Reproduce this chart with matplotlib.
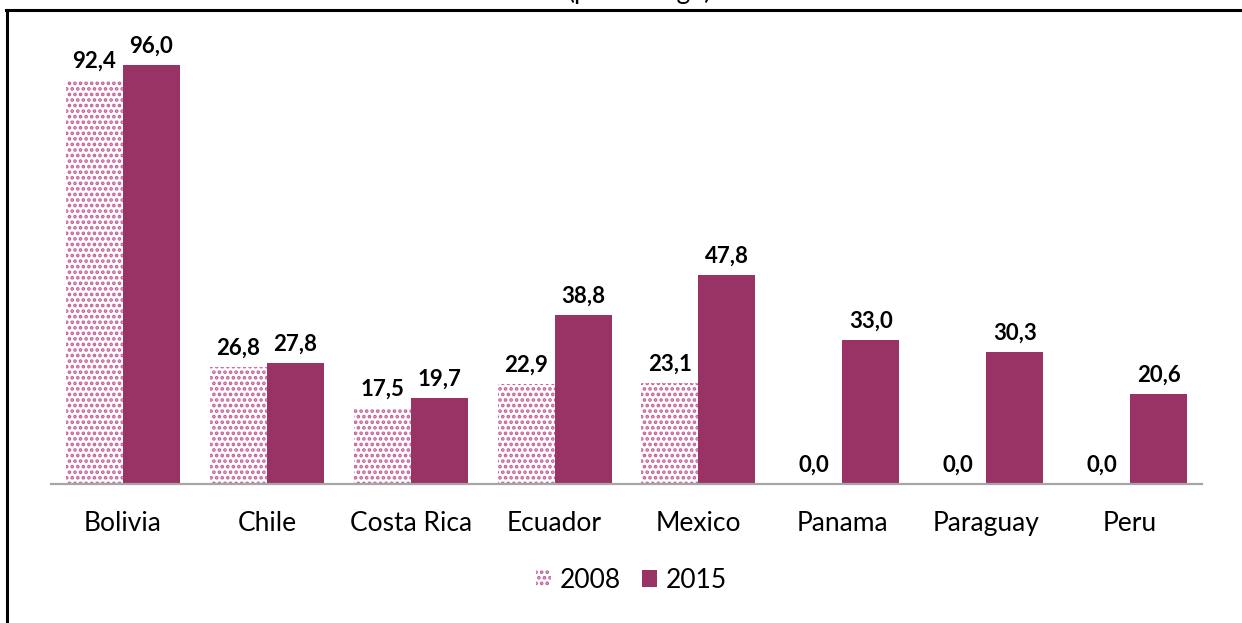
import matplotlib.pyplot as plt
import numpy as np
from matplotlib.lines import Line2D

countries = ["Bolivia", "Chile", "Costa Rica", "Ecuador", "Mexico", "Panama", "Paraguay", "Peru"]
v2008 = [92.4, 26.8, 17.5, 22.9, 23.1, 0.0, 0.0, 0.0]
v2015 = [96.0, 27.8, 19.7, 38.8, 47.8, 33.0, 30.3, 20.6]

plum = "#993366"
plt.rcParams['font.family'] = ['Lato', 'DejaVu Sans']
plt.rcParams['hatch.linewidth'] = 1.8
plt.rcParams['hatch.color'] = "#c4609a"

fig = plt.figure(figsize=(12.42, 6.23), dpi=100)
ax = fig.add_axes([0.0411, 0.2231, 0.9267, 0.7416])

x = np.arange(len(countries))
w = 0.396
ax.bar(x - w/2, v2008, w, color="white", edgecolor="#c4609a", linewidth=0, hatch="...", label="2008")
ax.bar(x + w/2, v2015, w, color=plum, label="2015")

def fmt(v):
    return f"{v:.1f}".replace(".", ",")

for xi, v in zip(x - w/2, v2008):
    ax.annotate(fmt(v), (xi, v), xytext=(0, 6), textcoords="offset points",
                ha="center", va="bottom", fontsize=16, fontweight="bold")
for xi, v in zip(x + w/2, v2015):
    ax.annotate(fmt(v), (xi, v), xytext=(0, 6), textcoords="offset points",
                ha="center", va="bottom", fontsize=16, fontweight="bold")

ax.set_xlim(-0.5, len(countries) - 0.5)
ax.set_ylim(0, 105.8)
ax.set_xticks(x)
ax.set_xticklabels(countries, fontsize=19)
ax.tick_params(axis="x", length=0, pad=19.5)
ax.set_yticks([])
for s in ["top", "right", "left"]:
    ax.spines[s].set_visible(False)
ax.spines["bottom"].set_color("#a6a6a6")
ax.spines["bottom"].set_linewidth(1.6)

fig.legend(loc="center", bbox_to_anchor=(631/1242, 1 - 580/623), ncol=2, frameon=False,
           fontsize=19, handlelength=0.6, handleheight=0.6, handletextpad=0.3, columnspacing=0.8)

# cut-off subtitle and frame
fig.text(0.515, 1.0 + 1/623, "(percentage)", ha="center", va="baseline", fontsize=19)
fig.add_artist(Line2D([6/1242, 1], [1 - 9.5/623] * 2, color="black", lw=2.2, transform=fig.transFigure))
fig.add_artist(Line2D([6.5/1242] * 2, [0, 1 - 9.5/623], color="black", lw=2.2, transform=fig.transFigure))

fig.savefig("out.png", dpi=100)
